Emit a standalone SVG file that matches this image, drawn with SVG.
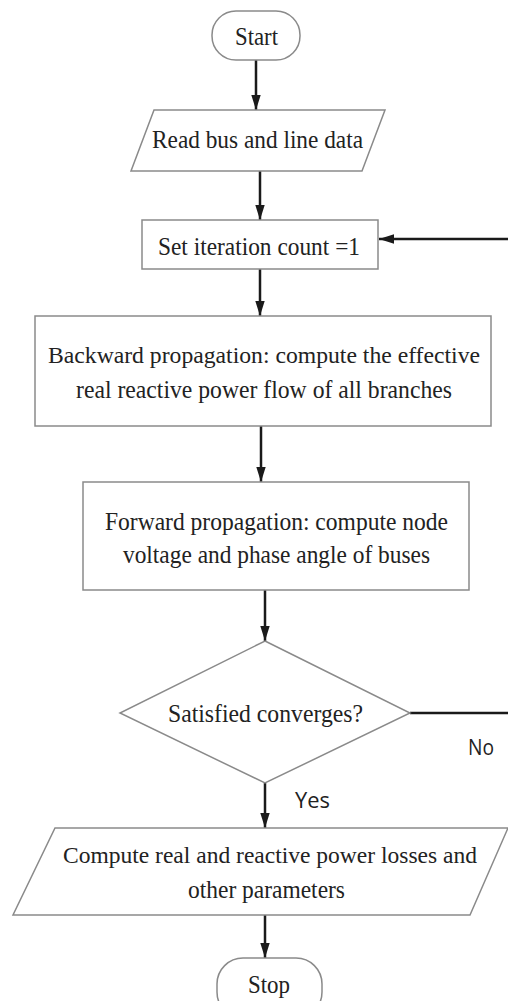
<svg xmlns="http://www.w3.org/2000/svg" width="508" height="1001" viewBox="0 0 508 1001">
<defs>
<marker id="ah" markerWidth="15" markerHeight="24" refX="24" refY="7.5" orient="auto" markerUnits="userSpaceOnUse" viewBox="0 0 24 15">
<path d="M0,0 L24,7.5 L0,15 Z" fill="#1a1a1a"/>
</marker>
<style>
.box{fill:#fff;stroke:#8a8a8a;stroke-width:1.5}
.t{font-family:"Liberation Serif","Times New Roman",serif;font-size:26px;fill:#222;text-anchor:middle}
.t.l{font-size:24px}
.s{font-family:"Open Sans","Liberation Sans",sans-serif;font-size:21px;fill:#222}
.c{stroke:#1a1a1a;stroke-width:2.5;fill:none}
</style>
</defs>
<rect width="508" height="1001" fill="#fff"/>
<g id="connectors">
<line class="c" x1="256" y1="60" x2="256" y2="110" marker-end="url(#ah)"/>
<line class="c" x1="260" y1="171" x2="260" y2="220" marker-end="url(#ah)"/>
<line class="c" x1="260" y1="269" x2="260" y2="316" marker-end="url(#ah)"/>
<line class="c" x1="261" y1="426" x2="261" y2="482" marker-end="url(#ah)"/>
<line class="c" x1="265" y1="590" x2="265" y2="641" marker-end="url(#ah)"/>
<line class="c" x1="265" y1="783" x2="265" y2="828" marker-end="url(#ah)"/>
<line class="c" x1="265" y1="915" x2="265" y2="958" marker-end="url(#ah)"/>
<polyline class="c" points="410,713 512,713 512,239 379,239" marker-end="url(#ah)"/>
<text class="s" x="468" y="755" textLength="26" lengthAdjust="spacingAndGlyphs">No</text>
<text class="s" x="295" y="808" textLength="35" lengthAdjust="spacingAndGlyphs">Yes</text>
</g>
<g id="start">
<rect class="box" x="212" y="11" width="88" height="49" rx="24" ry="24"/>
<text class="t" x="256.5" y="45" textLength="43" lengthAdjust="spacingAndGlyphs">Start</text>
</g>
<g id="read">
<polygon class="box" points="154,110 385,110 362,171 131,171"/>
<text class="t" x="257.5" y="148" textLength="211" lengthAdjust="spacingAndGlyphs">Read bus and line data</text>
</g>
<g id="setcount">
<rect class="box" x="142" y="220" width="236" height="49"/>
<text class="t" x="259" y="255" textLength="202" lengthAdjust="spacingAndGlyphs">Set iteration count =1</text>
</g>
<g id="backward">
<rect class="box" x="35" y="316" width="456" height="110"/>
<text class="t l" x="264" y="363" textLength="432" lengthAdjust="spacingAndGlyphs">Backward propagation: compute the effective</text>
<text class="t" x="264" y="398" textLength="376" lengthAdjust="spacingAndGlyphs">real reactive power flow of all branches</text>
</g>
<g id="forward">
<rect class="box" x="83" y="482" width="386" height="108"/>
<text class="t" x="276.5" y="530" textLength="343" lengthAdjust="spacingAndGlyphs">Forward propagation: compute node</text>
<text class="t" x="276.5" y="563" textLength="307" lengthAdjust="spacingAndGlyphs">voltage and phase angle of buses</text>
</g>
<g id="decision">
<polygon class="box" points="265,641 410,713 265,783 120,713"/>
<text class="t" x="265.5" y="722" textLength="195" lengthAdjust="spacingAndGlyphs">Satisfied converges?</text>
</g>
<g id="compute">
<polygon class="box" points="55,828 508,828 470,915 13,915"/>
<text class="t l" x="270" y="863" textLength="414" lengthAdjust="spacingAndGlyphs">Compute real and reactive power losses and</text>
<text class="t" x="266.5" y="898" textLength="157" lengthAdjust="spacingAndGlyphs">other parameters</text>
</g>
<g id="stop">
<rect class="box" x="217" y="958" width="105" height="60" rx="26" ry="26"/>
<text class="t" x="269" y="993" textLength="42" lengthAdjust="spacingAndGlyphs">Stop</text>
</g>
</svg>
